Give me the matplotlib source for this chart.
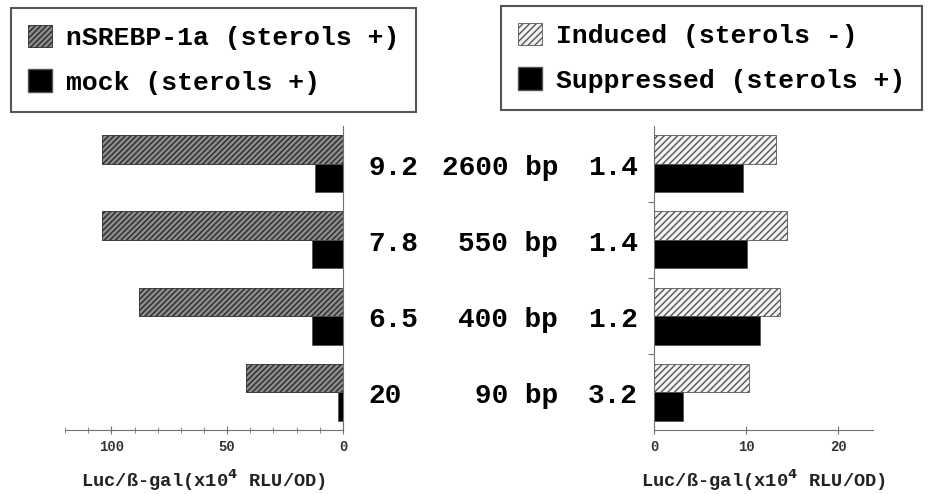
import matplotlib
matplotlib.use("Agg")
import matplotlib.pyplot as plt
import matplotlib.transforms as mtransforms
from matplotlib.patches import Patch
from matplotlib.ticker import MultipleLocator
import numpy as np

plt.rcParams['font.family'] = ['Liberation Mono', 'DejaVu Sans Mono']
plt.rcParams['font.weight'] = 'bold'

# promoter constructs, top to bottom
promoters = ['2600 bp', '550 bp', '400 bp', '90 bp']
fold_nsrebp = ['9.2', '7.8', '6.5', '20']
fold_sterol = ['1.4', '1.4', '1.2', '3.2']

# Luc/ß-gal activity (x10^4 RLU/OD)
nsrebp = [104, 104, 88, 42]
mock = [12, 13.3, 13.5, 2.3]
induced = [13.3, 14.4, 13.7, 10.3]
suppressed = [9.7, 10.1, 11.5, 3.2]

W, H = 932, 494
fig = plt.figure(figsize=(W / 100, H / 100), dpi=100)

def px_axes(x0, y0, x1, y1):
    return fig.add_axes([x0 / W, 1 - y1 / H, (x1 - x0) / W, (y1 - y0) / H])

axL = px_axes(65, 126, 343, 430)
axR = px_axes(654, 126, 873, 430)

y = np.arange(len(promoters))
bh = 0.375
axis_gray = '#707070'

# left panel: nSREBP-1a vs mock, bars grow to the left
axL.barh(y - bh / 2, nsrebp, height=bh, color='#8c8c8c', edgecolor='#2a2a2a',
         hatch='//////', linewidth=0.6)
axL.barh(y + bh / 2, mock, height=bh, color='black', edgecolor='#555555', linewidth=0.6)
axL.set_xlim(120, 0)
axL.set_ylim(3.5, -0.5)
axL.spines[['top', 'left']].set_visible(False)
axL.spines[['bottom', 'right']].set_color(axis_gray)
axL.xaxis.set_major_locator(MultipleLocator(50))
axL.xaxis.set_minor_locator(MultipleLocator(10))
axL.set_yticks([])

# right panel: sterol induced vs suppressed
axR.barh(y - bh / 2, induced, height=bh, color='#f2f2f2', edgecolor='#555555',
         hatch='/////', linewidth=0.6)
axR.barh(y + bh / 2, suppressed, height=bh, color='black', edgecolor='#555555', linewidth=0.6)
axR.set_xlim(0, 23.8)
axR.set_ylim(3.5, -0.5)
axR.spines[['top', 'right']].set_visible(False)
axR.spines[['bottom', 'left']].set_color(axis_gray)
axR.xaxis.set_major_locator(MultipleLocator(10))
axR.set_yticks([0.5, 1.5, 2.5])
axR.set_yticklabels([])
axR.tick_params(axis='y', length=4, color=axis_gray)

for ax in (axL, axR):
    ax.tick_params(axis='x', which='both', direction='inout', color=axis_gray,
                   labelsize=10, labelcolor='#333333', pad=4)
    ax.tick_params(axis='x', which='major', length=6)
    ax.tick_params(axis='x', which='minor', length=5)
    ax.set_xlabel(r'Luc/ß-gal(x10$^{\mathbf{4}}$ RLU/OD)', fontsize=13.5,
                  fontweight='bold', color='#222222', labelpad=10)

# fold changes and construct names between the panels
trans = mtransforms.blended_transform_factory(fig.transFigure, axL.transData)
for i in range(len(promoters)):
    axL.text(368 / W, i + 0.05, fold_nsrebp[i], transform=trans, ha='left', va='center',
             fontsize=20, fontweight='bold', clip_on=False)
    axL.text(558 / W, i + 0.05, promoters[i], transform=trans, ha='right', va='center',
             fontsize=20, fontweight='bold', clip_on=False)
    axL.text(588 / W, i + 0.05, fold_sterol[i], transform=trans, ha='left', va='center',
             fontsize=20, fontweight='bold', clip_on=False)

def legend_box(handles, x0, y0):
    leg = fig.legend(handles=handles, loc='upper left',
                     bbox_to_anchor=(x0 / W, 1 - y0 / H), borderaxespad=0,
                     prop={'size': 19, 'weight': 'bold'}, handlelength=0.92,
                     handleheight=0.92, handletextpad=0.5, labelspacing=0.72,
                     borderpad=0.65, fancybox=False, framealpha=1)
    leg.get_frame().set_edgecolor('#555555')
    leg.get_frame().set_linewidth(1.5)
    return leg

legend_box([Patch(facecolor='#8c8c8c', edgecolor='#2a2a2a', hatch='//////', linewidth=0.6,
                  label='nSREBP-1a (sterols +)'),
            Patch(facecolor='black', edgecolor='#555555', label='mock (sterols +)')], 11, 8)
legend_box([Patch(facecolor='#f2f2f2', edgecolor='#555555', hatch='/////', linewidth=0.6,
                  label='Induced (sterols -)'),
            Patch(facecolor='black', edgecolor='#555555', label='Suppressed (sterols +)')], 501, 6)

fig.savefig('out.png', dpi=100)
